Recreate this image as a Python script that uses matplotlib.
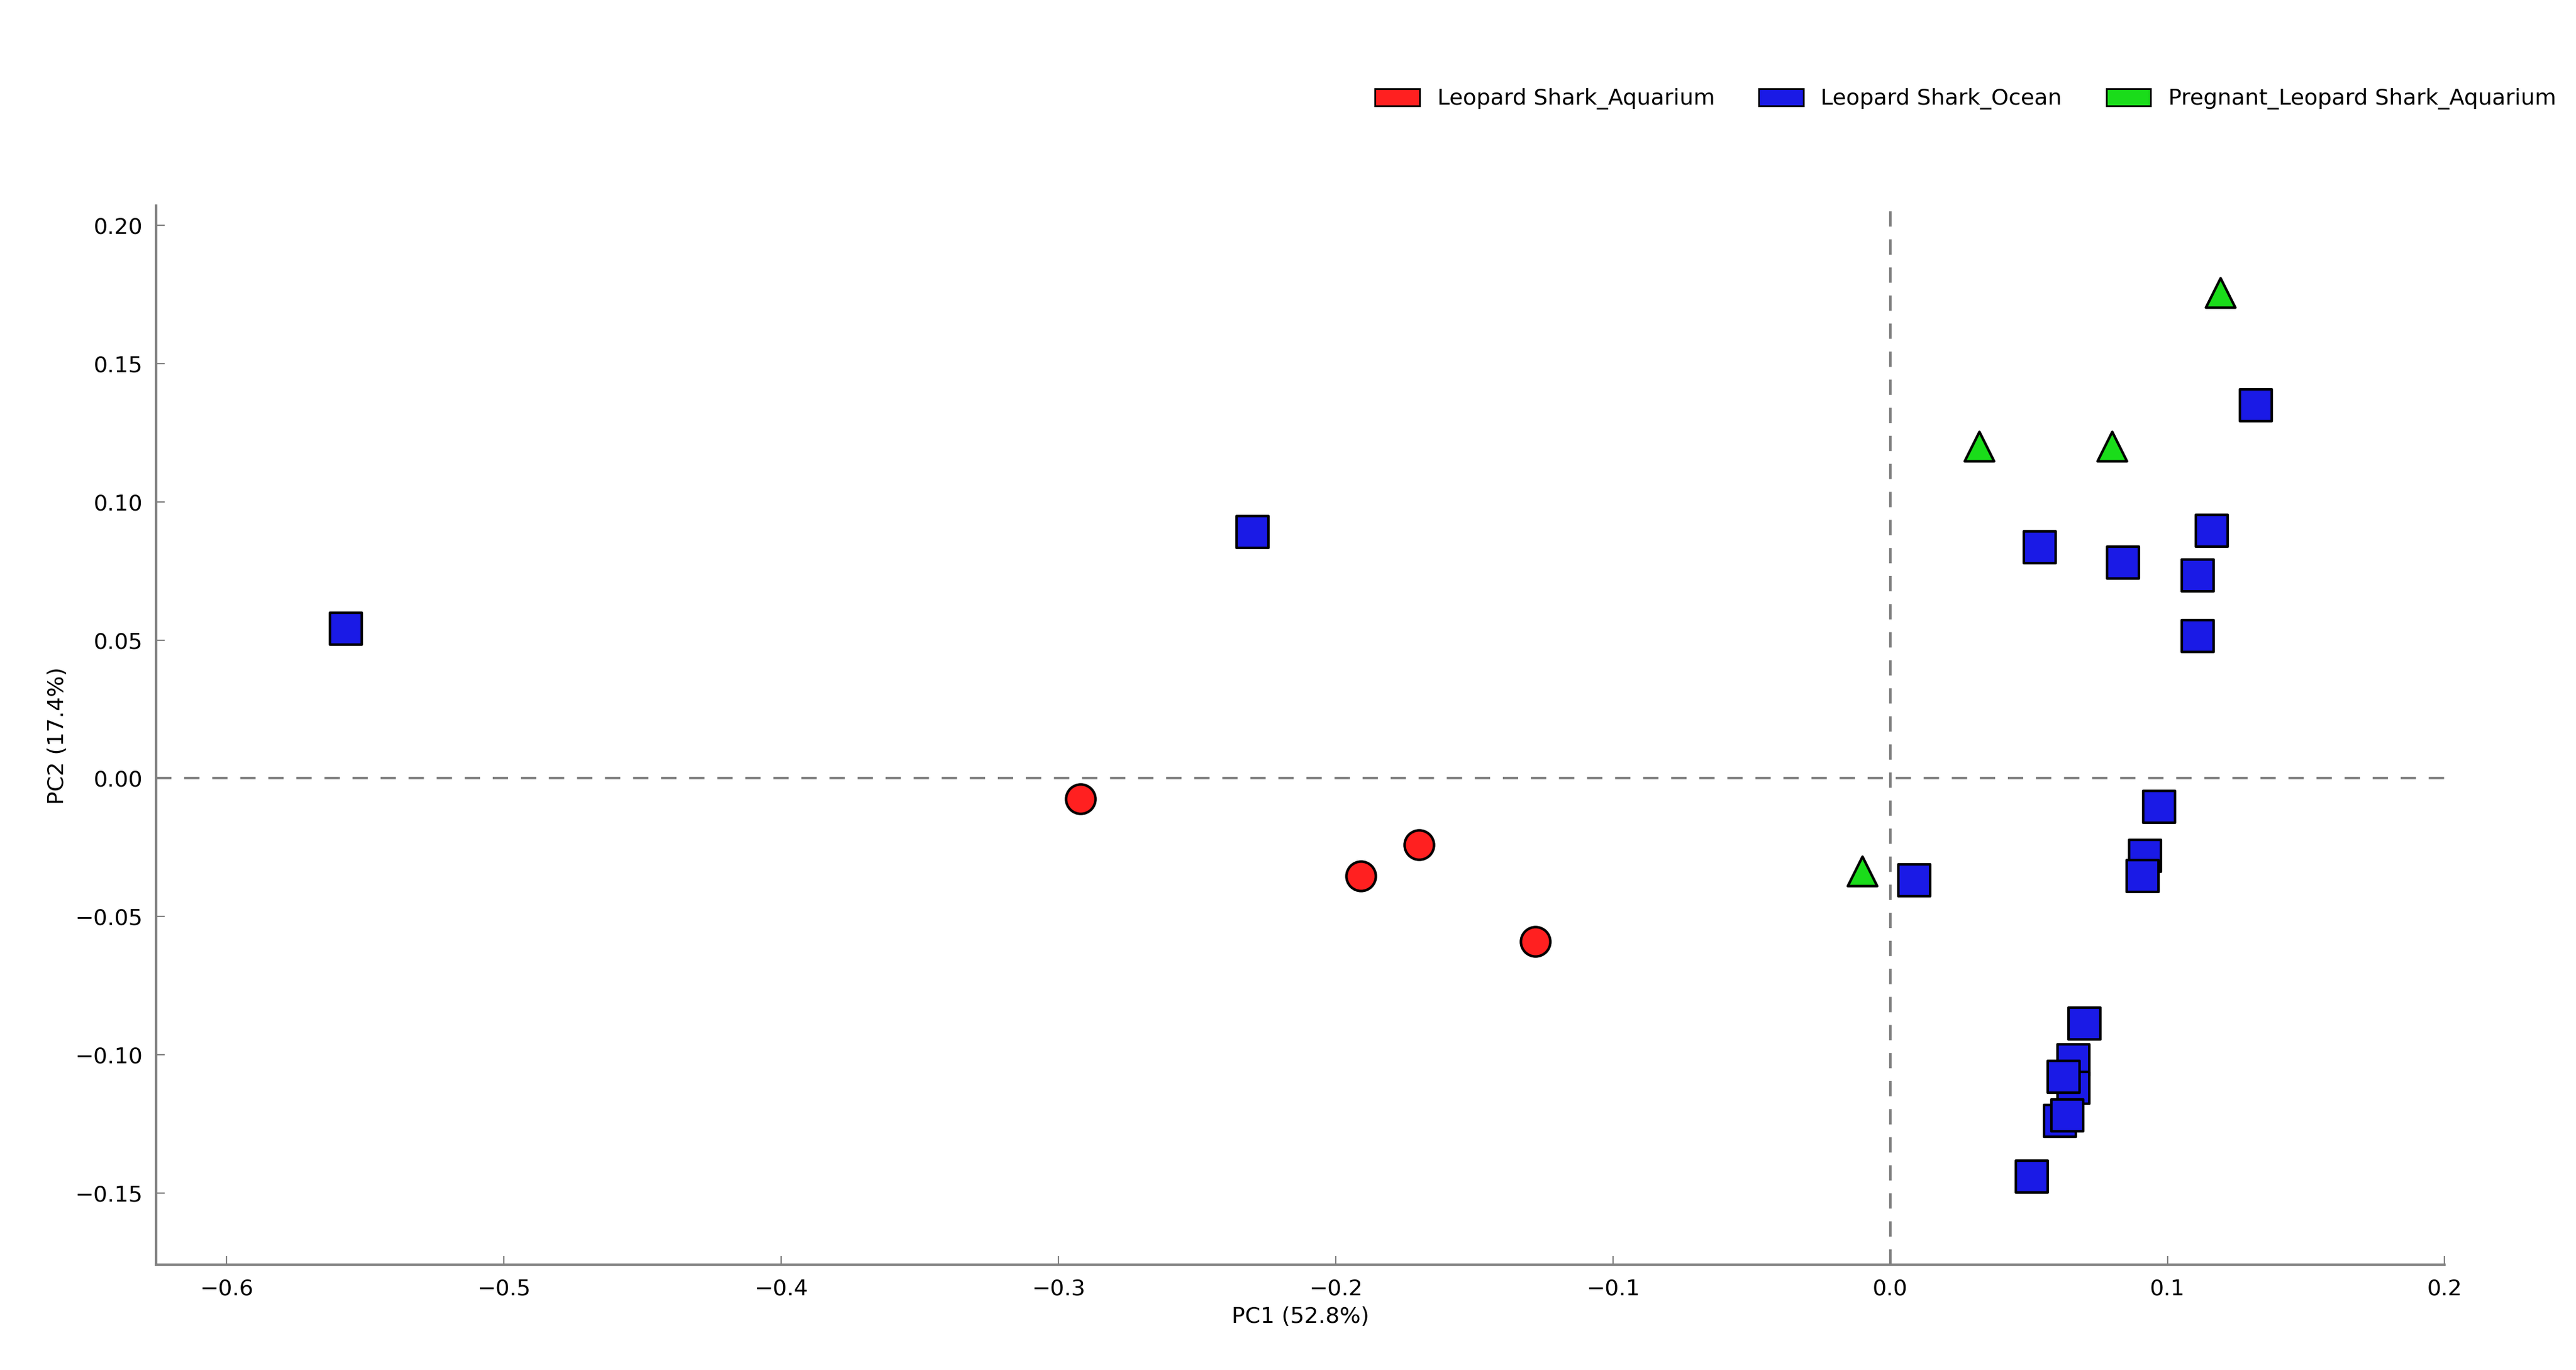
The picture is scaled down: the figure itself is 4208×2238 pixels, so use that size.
import numpy as np
import matplotlib.pyplot as plt
from matplotlib.patches import Patch

# PCA coordinates
aq_x = [-0.292, -0.191, -0.170, -0.128]
aq_y = [-0.0074, -0.0353, -0.024, -0.059]

oc_x = [-0.557, -0.230, 0.132, 0.054, 0.084, 0.116, 0.111, 0.111, 0.097, 0.092,
        0.091, 0.0086, 0.070, 0.066, 0.066, 0.0625, 0.0613, 0.064, 0.051]
oc_y = [0.054, 0.089, 0.135, 0.0835, 0.078, 0.0895, 0.0734, 0.0515, -0.0103, -0.028,
        -0.0353, -0.037, -0.0888, -0.102, -0.112, -0.108, -0.124, -0.122, -0.144]

pr_x = [0.119, 0.032, 0.080, -0.010]
pr_y = [0.1756, 0.120, 0.120, -0.0335]

labels = ["Leopard Shark_Aquarium", "Leopard Shark_Ocean", "Pregnant_Leopard Shark_Aquarium"]
colors = ["#ff2020", "#1a1ae6", "#1adc1a"]

fig = plt.figure(figsize=(21.04, 11.19), dpi=200)
ax = fig.add_axes([0.0606, 0.0767, 0.8884, 0.773])

ax.axhline(0, color="grey", ls="--", lw=1.5, dashes=(6, 5), zorder=1)
ax.axvline(0, color="grey", ls="--", lw=1.5, dashes=(6, 5), zorder=1)

ax.scatter(oc_x, oc_y, marker="s", s=340, c=colors[1], edgecolors="black", linewidths=1.5, zorder=3)
ax.scatter(aq_x, aq_y, marker="o", s=300, c=colors[0], edgecolors="black", linewidths=1.5, zorder=3)
ax.scatter(pr_x, pr_y, marker="^", s=300, c=colors[2], edgecolors="black", linewidths=1.5, zorder=3)

ax.set_xlim(-0.6255, 0.2)
ax.set_ylim(-0.176, 0.207)
xt = np.arange(-0.6, 0.21, 0.1)
yt = np.arange(-0.15, 0.21, 0.05)
ax.set_xticks(xt)
ax.set_yticks(yt)
ax.set_xticklabels(["\u2212%.1f" % abs(v) if v < -1e-9 else "%.1f" % abs(v) for v in xt])
ax.set_yticklabels(["\u2212%.2f" % abs(v) if v < -1e-9 else "%.2f" % abs(v) for v in yt])
ax.tick_params(labelsize=13, direction="in", length=5, color="grey", pad=8)
for s in ["top", "right"]:
    ax.spines[s].set_visible(False)
for s in ["left", "bottom"]:
    ax.spines[s].set_color("grey")
    ax.spines[s].set_linewidth(1.5)

ax.set_xlabel("PC1 (52.8%)", fontsize=13)
ax.set_ylabel("PC2 (17.4%)", fontsize=13)

handles = [Patch(facecolor=c, edgecolor="black", label=l) for c, l in zip(colors, labels)]
fig.legend(handles=handles, loc="upper right", bbox_to_anchor=(1.0, 0.95), ncol=3,
           frameon=False, fontsize=13, handlelength=2, handleheight=0.8, columnspacing=2)

fig.savefig("out.png", dpi=200)
